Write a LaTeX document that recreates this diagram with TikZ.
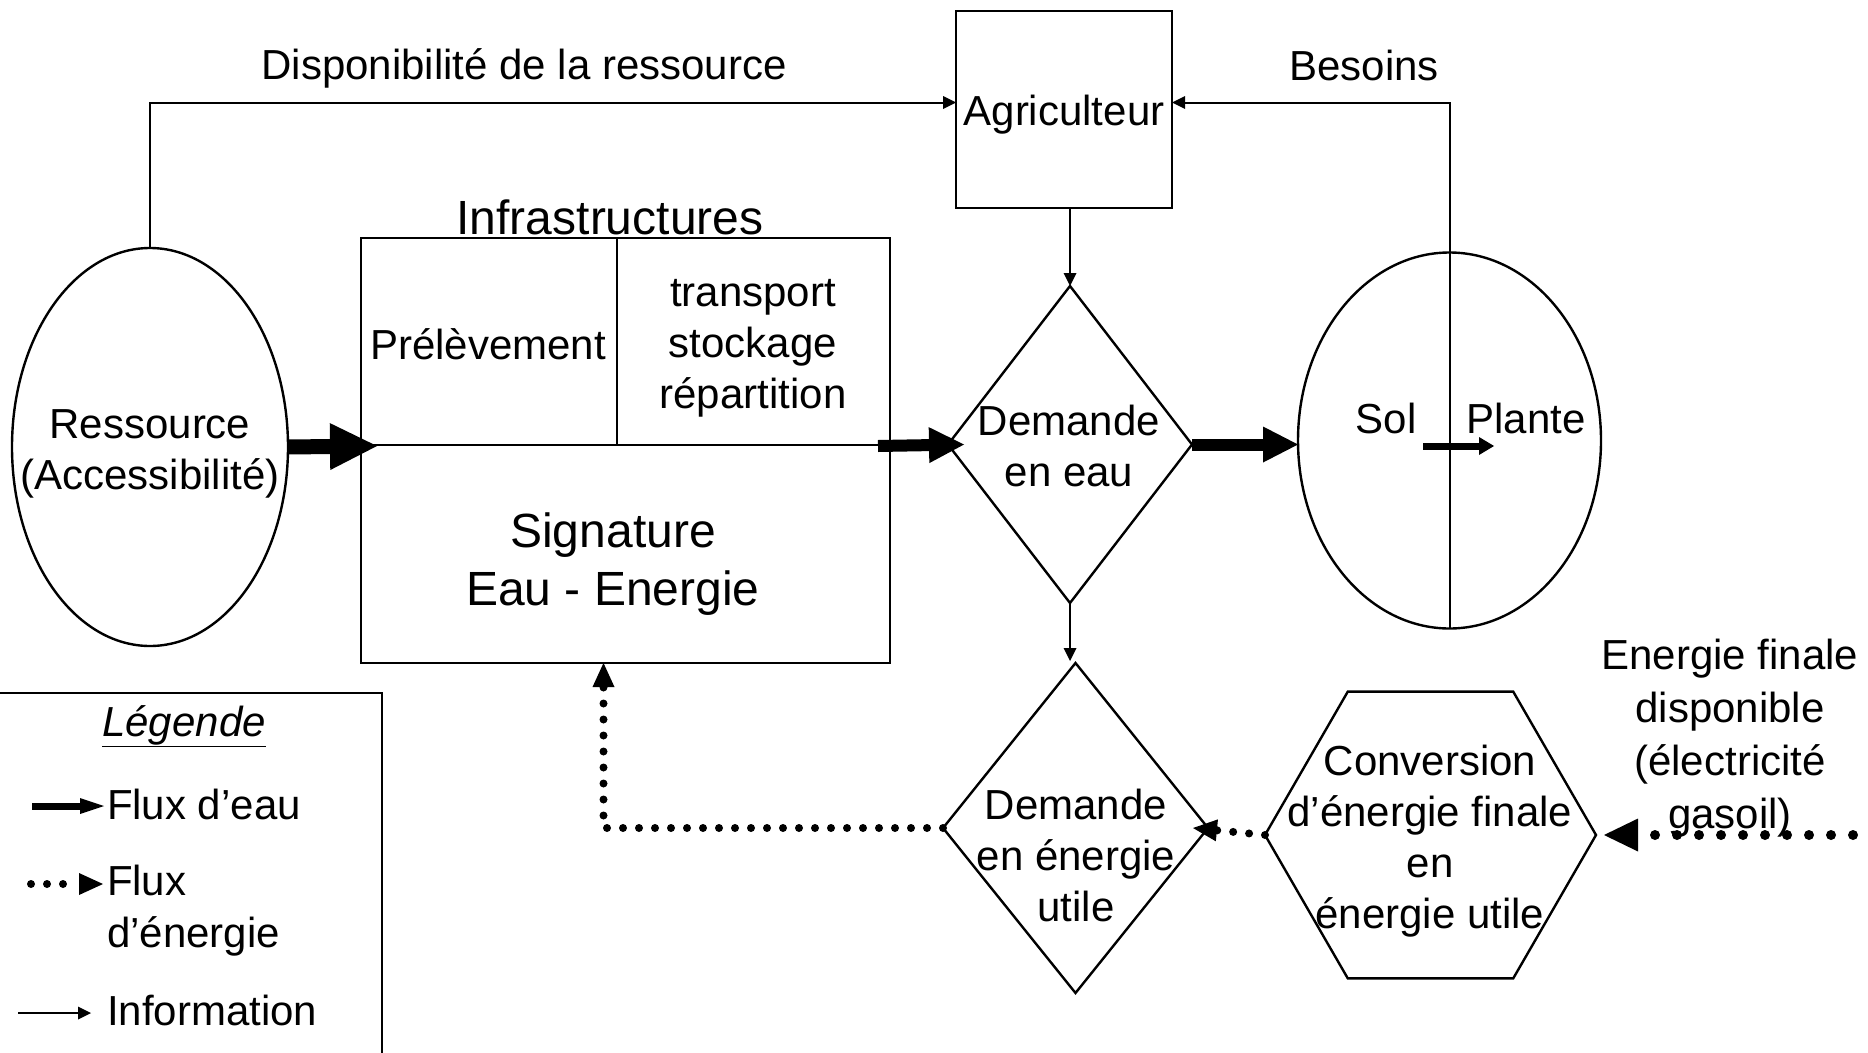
\documentclass[tikz,border=0pt]{standalone}
\usepackage{fontspec}
\setmainfont{Liberation Sans}
\usetikzlibrary{arrows.meta,shapes.geometric,calc}
\begin{document}
\begin{tikzpicture}[x=1pt,y=-1pt,
  every node/.style={inner sep=0pt, outer sep=0pt},
  txt/.style={font=\fontsize{42}{51}\selectfont, align=center},
  bigtxt/.style={font=\fontsize{48}{58}\selectfont, align=center},
  shapeline/.style={draw, line width=2.4pt},
  water/.style={line width=12pt, -{Triangle[length=35pt,width=36pt,line width=0pt]}},
  waterbig/.style={line width=15pt, -{Triangle[length=47pt,width=47pt,line width=0pt]}},
  energy/.style={line width=8pt, line cap=round, dash pattern=on 0pt off 16pt, -{Triangle[length=24pt,width=22pt,line width=0pt]}},
  energybig/.style={line width=10pt, line cap=round, dash pattern=on 0pt off 22pt, -{Triangle[length=34pt,width=33pt,line width=0pt]}},
  info/.style={line width=2pt, -{Triangle[length=13pt,width=13pt,line width=0pt]}}
]
\useasboundingbox (0,0) rectangle (1868,1052);

% shapes
\node[ellipse, shapeline, minimum width=276pt, minimum height=398pt] (ress) at (150,447) {};
\node[txt] (resst) at (150,454) {Ressource\\(Accessibilité)};

\node[shapeline, minimum width=216pt, minimum height=197pt] (agri) at (1064,109.5) {};
\node[txt] (agrit) at (1064,115) {Agriculteur};

\node[shapeline, minimum width=529pt, minimum height=425pt, anchor=north west] (infra) at (361,238) {};
\draw[line width=2.4pt] (361,445) -- (890,445);
\draw[line width=2.4pt] (617,238) -- (617,445);
\node[bigtxt] (infrat) at (610,217) {Infrastructures};
\node[txt] (prel) at (488,344) {Prélèvement};
\node[txt] (trans) at (753,348) {transport\\stockage\\répartition};
\node[bigtxt] (sign) at (613,564) {Signature\\Eau - Energie};

\node[diamond, shapeline, minimum width=244pt, minimum height=317pt] (dem) at (1070,444.5) {};
\node[txt] (demt) at (1069,446) {Demande\\en eau};

\node[ellipse, shapeline, minimum width=303pt, minimum height=376pt] (sol) at (1449.5,440.5) {};
\draw[line width=2pt] (sol.north) -- (sol.south);
\node[txt] (solt) at (1386,418) {Sol};
\node[txt] (plantet) at (1526,418) {Plante};
\coordinate (sp1) at (1423,446);
\coordinate (sp2) at (1494,446);
\draw[line width=7pt, -{Triangle[length=15pt,width=18pt,line width=0pt]}] (sp1) -- (sp2);

\node[diamond, shapeline, minimum width=265pt, minimum height=330pt] (dem2) at (1075.5,828) {};
\node[txt] (dem2t) at (1076,855) {Demande\\en énergie\\utile};

\node[regular polygon, regular polygon sides=6, shapeline, minimum size=331pt] (hex) at (1430.5,835) {};
\node[txt] (hext) at (1430,841) {Conversion\\d’énergie finale\\en\\énergie utile};

\node[txt, font=\fontsize{42}{53}\selectfont] (efint) at (1730,738) {Energie finale\\disponible\\(électricité\\gasoil)};

\node[txt] (dispt) at (524,68) {Disponibilité de la ressource};
\node[txt] (besoint) at (1364,65) {Besoins};

% water flows
\coordinate (infraout) at (878,446);
\draw[waterbig] (ress.east) -- ([xshift=16pt]infra.west |- 0,446);
\draw[water] (infraout) -- ([xshift=16pt]dem.west);
\draw[water] (dem.east) -- (dem.east -| sol.west);

% information
\draw[info] (ress.north) |- ([yshift=7pt]agri.west);
\draw[info] (sol.north) |- ([yshift=7pt]agri.east);
\draw[info] (agri.south -| dem.north) -- (dem.north);
\draw[info] (dem.south) -- ([yshift=2pt]dem.south |- dem2.north);

% energy
\coordinate (efin) at (1875,835);
\draw[energybig] (efin) -- ([xshift=8pt]hex.east);
\draw[energy] (hex.west) -- ([xshift=-15pt]dem2.east);
\draw[energy] (dem2.west) -| ([xshift=-22pt]infra.south);

% legend
\node[shapeline, minimum width=387pt, minimum height=380pt, anchor=north west] (leg) at (-5,693) {};
\node[txt] (legt) at (184,726) {\underline{\textit{Légende}}};
\coordinate (lw1) at (32,806);
\coordinate (lw2) at (104,806);
\draw[line width=7pt, -{Triangle[length=24pt,width=16pt,line width=0pt]}] (lw1) -- (lw2);
\node[txt, anchor=west] (lwt) at (107,804) {Flux d’eau};
\coordinate (le1) at (31,884);
\coordinate (le2) at (103,884);
\draw[energy] (le1) -- (le2);
\node[txt, anchor=west, align=left, font=\fontsize{42}{52}\selectfont] (let) at (107,911) {Flux\\d’énergie};
\coordinate (li1) at (18,1013);
\coordinate (li2) at (91,1013);
\draw[info] (li1) -- (li2);
\node[txt, anchor=west] (lit) at (107,1010) {Information};
\end{tikzpicture}
\end{document}
